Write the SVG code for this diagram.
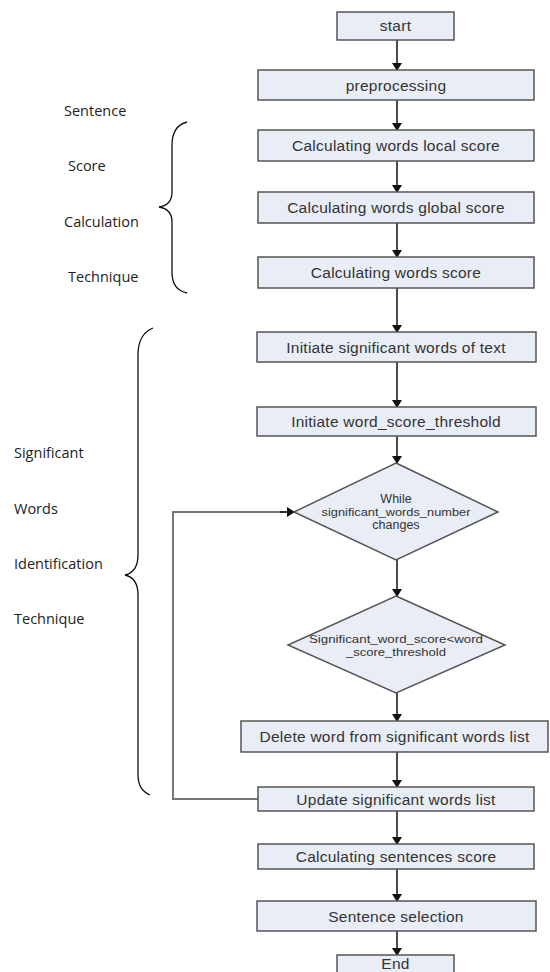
<svg xmlns="http://www.w3.org/2000/svg" width="550" height="972" viewBox="0 0 550 972">
<style>
.box{fill:#e9edf6;stroke:#555;stroke-width:1.5}
.t{font-family:"Liberation Sans",Arial,sans-serif;font-size:15.5px;letter-spacing:0.25px;fill:#333;text-anchor:middle}
.d{font-family:"Liberation Sans",Arial,sans-serif;font-size:11px;fill:#333;text-anchor:middle}
.d2{font-family:"Liberation Sans",Arial,sans-serif;font-size:12.5px;fill:#333;text-anchor:middle}
.lab{font-family:"Open Sans","Noto Sans",sans-serif;font-size:14.5px;fill:#222}
.c{stroke:#111;stroke-width:1.5;fill:none}
.br{stroke:#111;stroke-width:1.3;fill:none}
</style>
<defs>
<marker id="ah" markerWidth="8" markerHeight="10" refX="7" refY="5" orient="auto" markerUnits="userSpaceOnUse">
<path d="M0,0 L8,5 L0,10 z" fill="#111"/>
</marker>
</defs>
<rect width="550" height="972" fill="#fff"/>
<g id="labels">
<text class="lab" x="64" y="116">Sentence</text>
<text class="lab" x="68" y="171">Score</text>
<text class="lab" x="64" y="227">Calculation</text>
<text class="lab" x="68" y="282">Technique</text>
<text class="lab" x="14" y="458">Significant</text>
<text class="lab" x="14" y="514">Words</text>
<text class="lab" x="14" y="569">Identification</text>
<text class="lab" x="14" y="624">Technique</text>
<path class="br" d="M187,122 Q172,126 172,145 L172,192 Q172,205 159,207 Q172,209 172,222 L172,272 Q172,290 187,293"/>
<path class="br" d="M153,328 Q138,334 138,355 L138,555 Q138,572 125,575 Q138,578 138,595 L138,775 Q138,790 150,795"/>
</g>
<g id="connectors">
<path class="c" d="M397,40 V70" marker-end="url(#ah)"/>
<path class="c" d="M397,100 V130" marker-end="url(#ah)"/>
<path class="c" d="M397,161 V192" marker-end="url(#ah)"/>
<path class="c" d="M397,223 V257" marker-end="url(#ah)"/>
<path class="c" d="M397,288 V332" marker-end="url(#ah)"/>
<path class="c" d="M397,362 V407" marker-end="url(#ah)"/>
<path class="c" d="M397,436 V463" marker-end="url(#ah)"/>
<path class="c" d="M397,560 V596" marker-end="url(#ah)"/>
<path class="c" d="M397,693 V721" marker-end="url(#ah)"/>
<path class="c" d="M397,752 V787" marker-end="url(#ah)"/>
<path class="c" d="M397,811 V844" marker-end="url(#ah)"/>
<path class="c" d="M397,869 V901" marker-end="url(#ah)"/>
<path class="c" d="M397,931 V955" marker-end="url(#ah)"/>
<path d="M258,799 H173 V512 H286" stroke="#777" stroke-width="2" fill="none"/>
<path class="c" d="M280,512 H294" marker-end="url(#ah)"/>
</g>
<g id="start"><rect class="box" x="337" y="12" width="117" height="28"/><text class="t" x="395.5" y="31">start</text></g>
<g id="preprocessing"><rect class="box" x="258" y="70" width="276" height="30"/><text class="t" x="396" y="90.5">preprocessing</text></g>
<g id="local"><rect class="box" x="258" y="130" width="276" height="31"/><text class="t" x="396" y="151">Calculating words local score</text></g>
<g id="global"><rect class="box" x="258" y="192" width="276" height="31"/><text class="t" x="396" y="213">Calculating words global score</text></g>
<g id="wscore"><rect class="box" x="258" y="257" width="276" height="31"/><text class="t" x="396" y="278">Calculating words score</text></g>
<g id="initsig"><rect class="box" x="257" y="332" width="279" height="30"/><text class="t" x="396" y="352.5">Initiate significant words of text</text></g>
<g id="initthr"><rect class="box" x="257" y="407" width="279" height="29"/><text class="t" x="396" y="427">Initiate word_score_threshold</text></g>
<g id="while"><polygon class="box" points="396,463 498,512 396,560 294,512"/>
<text class="d2" x="396" y="503">While</text><text class="d" x="396" y="516" textLength="149" lengthAdjust="spacingAndGlyphs">significant_words_number</text><text class="d2" x="396" y="529">changes</text></g>
<g id="cond"><polygon class="box" points="396,596 505,645 396,693 288,645"/>
<text class="d" x="396" y="643" textLength="174" lengthAdjust="spacingAndGlyphs">Significant_word_score&lt;word</text><text class="d" x="396" y="656" textLength="100" lengthAdjust="spacingAndGlyphs">_score_threshold</text></g>
<g id="delete"><rect class="box" x="241" y="721" width="307" height="31"/><text class="t" x="394.5" y="742">Delete word from significant words list</text></g>
<g id="update"><rect class="box" x="258" y="787" width="276" height="24"/><text class="t" x="396" y="804.5">Update significant words list</text></g>
<g id="sentscore"><rect class="box" x="258" y="844" width="276" height="25"/><text class="t" x="396" y="862">Calculating sentences score</text></g>
<g id="selection"><rect class="box" x="257" y="901" width="279" height="30"/><text class="t" x="396" y="921.5">Sentence selection</text></g>
<g id="end"><rect class="box" x="337" y="955" width="117" height="22"/><text class="t" x="395.5" y="969">End</text></g>
</svg>
